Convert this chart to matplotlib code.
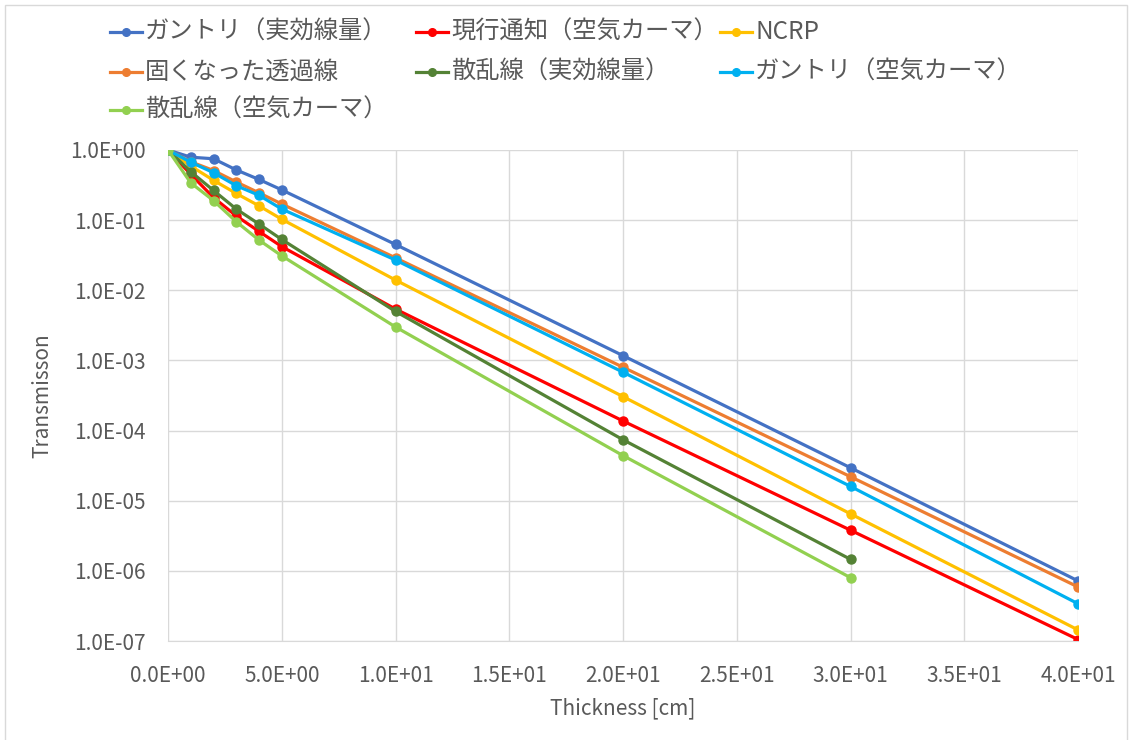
import matplotlib
matplotlib.use("Agg")
import matplotlib.pyplot as plt
from matplotlib.patches import Rectangle
from matplotlib.lines import Line2D
from matplotlib.ticker import FuncFormatter, FixedLocator, NullLocator

plt.rcParams['font.family'] = ['Noto Sans CJK JP', 'DejaVu Sans']

# Thickness [cm]
thickness_full = [0, 1, 2, 3, 4, 5, 10, 20, 30, 40]
thickness_scatter = [0, 1, 2, 3, 4, 5, 10, 20, 30]

# Transmission per series
gantry_eff = [1.0, 0.79, 0.75, 0.52, 0.38, 0.27, 0.045, 1.17e-3, 2.95e-5, 7.2e-7]
current_notice = [1.0, 0.45, 0.21, 0.115, 0.069, 0.042, 5.4e-3, 1.37e-4, 3.8e-6, 1.05e-7]
ncrp = [1.0, 0.59, 0.37, 0.24, 0.16, 0.103, 0.014, 3.05e-4, 6.5e-6, 1.44e-7]
hardened = [1.0, 0.68, 0.51, 0.35, 0.245, 0.17, 0.029, 8.0e-4, 2.2e-5, 5.9e-7]
scatter_eff = [1.0, 0.49, 0.265, 0.144, 0.088, 0.053, 5.0e-3, 7.4e-5, 1.46e-6]
gantry_air = [1.0, 0.67, 0.475, 0.31, 0.226, 0.144, 0.027, 6.8e-4, 1.6e-5, 3.4e-7]
scatter_air = [1.0, 0.34, 0.19, 0.095, 0.052, 0.031, 3.0e-3, 4.4e-5, 8.0e-7]

series = [
    ("ガントリ（実効線量）", thickness_full, gantry_eff, "#4472C4"),
    ("現行通知（空気カーマ）", thickness_full, current_notice, "#FF0000"),
    ("NCRP", thickness_full, ncrp, "#FFC000"),
    ("固くなった透過線", thickness_full, hardened, "#ED7D31"),
    ("散乱線（実効線量）", thickness_scatter, scatter_eff, "#548235"),
    ("ガントリ（空気カーマ）", thickness_full, gantry_air, "#00B0F0"),
    ("散乱線（空気カーマ）", thickness_scatter, scatter_air, "#92D050"),
]

TEXT = "#595959"
W, H = 1132, 740
fig = plt.figure(figsize=(W / 100, H / 100), dpi=100)
fig.patch.set_facecolor("white")
fig.patches.append(Rectangle((5 / W, -0.01), (1127 - 5) / W, 1 - 5 / H + 0.01,
                             transform=fig.transFigure, fill=False,
                             edgecolor="#d9d9d9", linewidth=1.0))

ax = fig.add_axes([168 / W, 1 - 641 / H, (1078 - 168) / W, (641 - 150) / H])

for label, xs, ys, color in series:
    ax.plot(xs, ys, color=color, linewidth=2.3, marker="o",
            markersize=6.5, label=label, solid_capstyle="round")

ax.set_yscale("log")
ax.set_xlim(0, 40)
ax.set_ylim(1e-7, 1e0)

xticks = [0, 5, 10, 15, 20, 25, 30, 35, 40]
yticks = [1e0, 1e-1, 1e-2, 1e-3, 1e-4, 1e-5, 1e-6, 1e-7]
ax.xaxis.set_major_locator(FixedLocator(xticks))
ax.yaxis.set_major_locator(FixedLocator(yticks))
ax.yaxis.set_minor_locator(NullLocator())
ax.xaxis.set_major_formatter(FuncFormatter(lambda v, p: f"{v:.1E}"))
ax.yaxis.set_major_formatter(FuncFormatter(lambda v, p: f"{v:.1E}"))

ax.grid(True, color="#d9d9d9", linewidth=1.0)
ax.set_axisbelow(True)
for side in ["top", "right", "left"]:
    ax.spines[side].set_visible(False)
ax.spines["bottom"].set_color("#d9d9d9")
ax.tick_params(axis="both", length=0, labelsize=15, labelcolor=TEXT)
ax.tick_params(axis="x", pad=17)
ax.tick_params(axis="y", pad=16)

ax.set_xlabel("Thickness [cm]", fontsize=15, color=TEXT, labelpad=8)
ax.set_ylabel("Transmisson", fontsize=15, color=TEXT, labelpad=12)

# Legend: three fixed-width columns filled row by row
col_x = [110, 416, 720]
row_y = [32, 72, 110]
for i, (label, xs, ys, color) in enumerate(series):
    r, c = divmod(i, 3)
    x0, y0 = col_x[c], row_y[r]
    fy = 1 - y0 / H
    fig.add_artist(Line2D([x0 / W, (x0 + 32) / W], [fy, fy],
                          transform=fig.transFigure, color=color, linewidth=2.3))
    fig.add_artist(Line2D([(x0 + 16) / W], [fy], transform=fig.transFigure,
                          color=color, marker="o", markersize=5.5))
    fig.text((x0 + 35) / W, fy, label, fontsize=17.5, color=TEXT,
             ha="left", va="center")

fig.savefig("out.png", dpi=100, facecolor="white")
